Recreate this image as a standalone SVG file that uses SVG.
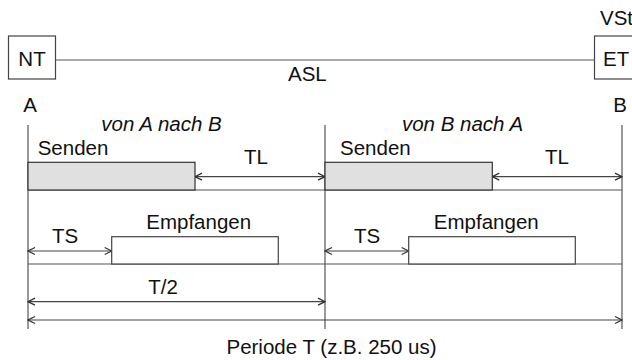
<svg xmlns="http://www.w3.org/2000/svg" width="632" height="360" viewBox="0 0 632 360">
<style>
text{font-family:"Liberation Sans",Arial,sans-serif;font-size:20.5px;fill:#111}
.it{font-style:italic}
.m{text-anchor:middle}
.box{fill:#fff;stroke:#444;stroke-width:1.2}
.send{fill:#e0e0e0;stroke:#333;stroke-width:1.2}
.ln{stroke:#555;stroke-width:1.2;fill:none}
.arr{stroke:#444;stroke-width:1.2;fill:none;marker-start:url(#ah);marker-end:url(#ah)}
</style>
<defs>
<marker id="ah" viewBox="-9 -5 10 10" markerWidth="10" markerHeight="10" refX="0" refY="0" orient="auto-start-reverse" markerUnits="userSpaceOnUse">
<path d="M-7,-3.5 L0,0 L-7,3.5" fill="none" stroke="#333" stroke-width="1.3"/>
</marker>
</defs>
<g id="NT"><rect class="box" x="8.5" y="36" width="47" height="43"/><text class="m" x="32" y="65.5">NT</text></g>
<g id="ET"><rect class="box" x="594.5" y="36" width="50" height="43"/><text x="603" y="65.5">ET</text></g>
<text x="600" y="25">VSt</text>
<g id="connectors">
<line class="ln" x1="55.5" y1="60" x2="594.5" y2="60"/>
<line class="ln" x1="28" y1="125" x2="28" y2="329"/>
<line class="ln" x1="325" y1="125" x2="325" y2="329"/>
<line class="ln" x1="622" y1="125" x2="622" y2="329"/>
<line class="ln" x1="28" y1="190" x2="622" y2="190"/>
<line class="ln" x1="28" y1="264" x2="622" y2="264"/>
<line class="arr" x1="195" y1="176.7" x2="325" y2="176.7"/>
<line class="arr" x1="492.3" y1="176.7" x2="622" y2="176.7"/>
<line class="arr" x1="28" y1="251" x2="111.7" y2="251"/>
<line class="arr" x1="325" y1="251" x2="408.7" y2="251"/>
<line class="arr" x1="28" y1="301.7" x2="325" y2="301.7"/>
<line class="arr" x1="28" y1="320" x2="622" y2="320"/>
</g>
<text x="288" y="81">ASL</text>
<text class="m" x="30" y="111.5">A</text>
<text class="m" x="620" y="111.5">B</text>
<text class="it m" x="161.5" y="131">von A nach B</text>
<text class="it m" x="462.5" y="131">von B nach A</text>
<g id="sendenA"><rect class="send" x="28" y="162.3" width="167" height="27.7"/><text x="37.7" y="155">Senden</text></g>
<g id="sendenB"><rect class="send" x="325" y="162.3" width="167.3" height="27.7"/><text x="340" y="155">Senden</text></g>
<text class="m" x="256" y="164">TL</text>
<text class="m" x="557" y="164">TL</text>
<g id="empfA"><rect class="box" x="111.7" y="236.7" width="166.6" height="27.3"/><text class="m" x="198.7" y="229">Empfangen</text></g>
<g id="empfB"><rect class="box" x="408.7" y="236.7" width="166.6" height="27.3"/><text class="m" x="486.3" y="229">Empfangen</text></g>
<text class="m" x="65" y="243">TS</text>
<text class="m" x="367" y="243">TS</text>
<text class="m" x="163" y="294">T/2</text>
<text class="m" x="331.5" y="354">Periode T (z.B. 250 us)</text>
</svg>
